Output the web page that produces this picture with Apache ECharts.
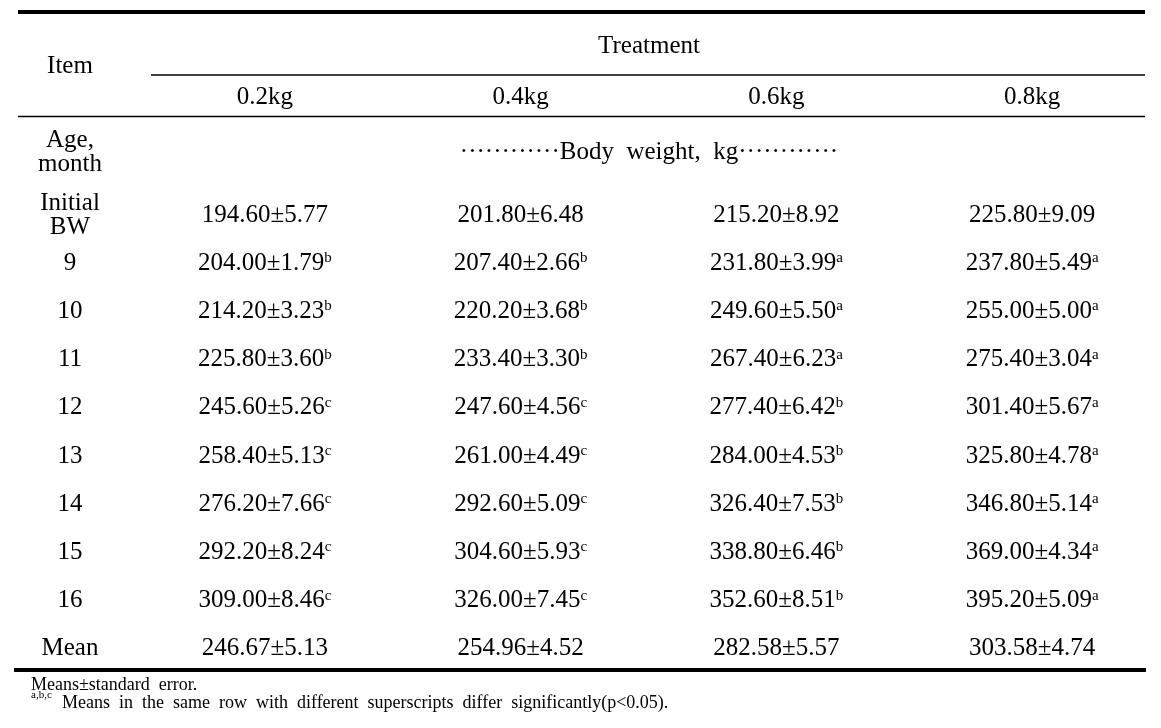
<!DOCTYPE html>
<html>
<head>
<meta charset="utf-8">
<script src="https://cdn.jsdelivr.net/npm/echarts@6/dist/echarts.min.js"></script>
<style>
  html, body { margin: 0; padding: 0; background: #fff; }
  #chart { width: 1161px; height: 728px; }
</style>
</head>
<body>
<div id="chart"></div>
<script>
  // 表头和行标签
  const treatments = ['0.2kg', '0.4kg', '0.6kg', '0.8kg'];
  const rows = ['Initial\nBW', '9', '10', '11', '12', '13', '14', '15', '16', 'Mean'];

  // 各处理组的体重均值、标准误、显著性标记
  const mean02 = [194.60, 204.00, 214.20, 225.80, 245.60, 258.40, 276.20, 292.20, 309.00, 246.67];
  const se02 = [5.77, 1.79, 3.23, 3.60, 5.26, 5.13, 7.66, 8.24, 8.46, 5.13];
  const sup02 = ['', 'b', 'b', 'b', 'c', 'c', 'c', 'c', 'c', ''];

  const mean04 = [201.80, 207.40, 220.20, 233.40, 247.60, 261.00, 292.60, 304.60, 326.00, 254.96];
  const se04 = [6.48, 2.66, 3.68, 3.30, 4.56, 4.49, 5.09, 5.93, 7.45, 4.52];
  const sup04 = ['', 'b', 'b', 'b', 'c', 'c', 'c', 'c', 'c', ''];

  const mean06 = [215.20, 231.80, 249.60, 267.40, 277.40, 284.00, 326.40, 338.80, 352.60, 282.58];
  const se06 = [8.92, 3.99, 5.50, 6.23, 6.42, 4.53, 7.53, 6.46, 8.51, 5.57];
  const sup06 = ['', 'a', 'a', 'a', 'b', 'b', 'b', 'b', 'b', ''];

  const mean08 = [225.80, 237.80, 255.00, 275.40, 301.40, 325.80, 346.80, 369.00, 395.20, 303.58];
  const se08 = [9.09, 5.49, 5.00, 3.04, 5.67, 4.78, 5.14, 4.34, 5.09, 4.74];
  const sup08 = ['', 'a', 'a', 'a', 'a', 'a', 'a', 'a', 'a', ''];

  const groups = [
    [mean02, se02, sup02],
    [mean04, se04, sup04],
    [mean06, se06, sup06],
    [mean08, se08, sup08],
  ];

  const FONT = "'Liberation Serif', 'Times New Roman', serif";
  const FS = 25; // 正文字号

  const chart = echarts.init(document.getElementById('chart'));

  // 每个单元格是一个不可见的散点，文字放在标签里
  const series = groups.map((g, i) => ({
    type: 'scatter',
    symbolSize: 1,
    itemStyle: { color: 'rgba(0,0,0,0)', opacity: 1 },
    silent: true,
    data: rows.map((r, j) => ({
      value: [i, j],
      label: {
        formatter: '{v|' + g[0][j].toFixed(2) + '±' + g[1][j].toFixed(2) + '}' + (g[2][j] ? '{s|' + g[2][j] + '}' : ''),
      },
    })),
    label: {
      show: true,
      position: 'inside',
      color: '#000',
      opacity: 1,
      rich: {
        v: { fontFamily: FONT, fontSize: FS, lineHeight: 25, color: '#000' },
        s: { fontFamily: FONT, fontSize: 15, lineHeight: 25, verticalAlign: 'top', color: '#000' },
      },
    },
  }));

  const line = (x1, y1, x2, y2, w) => ({
    type: 'line',
    shape: { x1, y1, x2, y2 },
    style: { stroke: '#000', lineWidth: w },
    silent: true,
  });
  const txt = (text, x, y, size, align) => ({
    type: 'text',
    style: {
      text, x, y,
      font: size + 'px ' + FONT,
      fill: '#000',
      textAlign: align || 'center',
      textVerticalAlign: 'middle',
      lineHeight: 24,
    },
    silent: true,
  });

  const dots = '\u00b7'.repeat(12);

  const option = {
    animation: false,
    backgroundColor: '#fff',
    grid: { left: 137, width: 1023, top: 191, height: 482, containLabel: false, outerBoundsMode: 'none' },
    xAxis: {
      type: 'category',
      position: 'top',
      data: treatments,
      axisLine: { show: false },
      axisTick: { show: false },
      splitLine: { show: false },
      axisLabel: { interval: 0, margin: 94, verticalAlign: 'middle', fontFamily: FONT, fontSize: FS, color: '#000' },
    },
    yAxis: {
      type: 'category',
      inverse: true,
      data: rows,
      axisLine: { show: false },
      axisTick: { show: false },
      splitLine: { show: false },
      axisLabel: { interval: 0, margin: 67, align: 'center', fontFamily: FONT, fontSize: FS, lineHeight: 24, color: '#000' },
    },
    series: series,
    graphic: [
      line(18, 12, 1145, 12, 4),
      line(151, 75, 1145, 75, 1.5),
      line(18, 116.5, 1145, 116.5, 1.5),
      line(14, 670, 1146, 670, 4),
      txt('Treatment', 649, 46, FS),
      txt('Item', 70, 66, FS),
      txt('Age,\nmonth', 70, 152, FS),
      txt(dots + 'Body  weight,  kg' + dots, 649, 152, FS),
      txt('Means±standard  error.', 31, 685, 18, 'left'),
      txt('a,b,c', 31, 695, 11, 'left'),
      txt('Means  in  the  same  row  with  different  superscripts  differ  significantly(p<0.05).', 62, 703, 18, 'left'),
    ],
  };

  chart.setOption(option);
</script>
</body>
</html>
